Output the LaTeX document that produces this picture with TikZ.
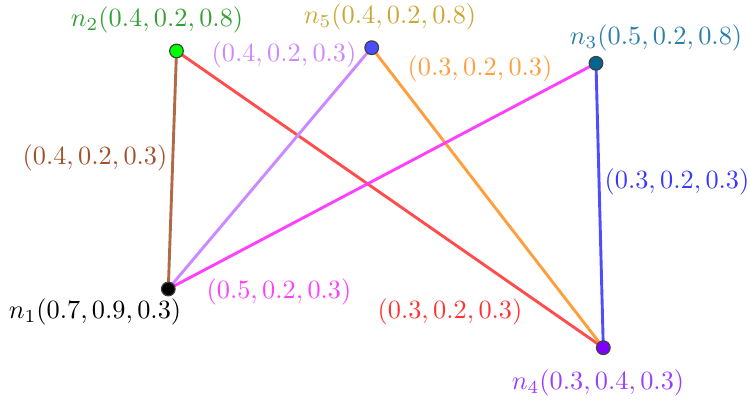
\documentclass[tikz,border=0pt]{standalone}
\usetikzlibrary{backgrounds}
\definecolor{cbrown}{HTML}{B06A45}
\definecolor{cbrownt}{HTML}{A0522D}
\definecolor{cred}{HTML}{FF4D4D}
\definecolor{credt}{HTML}{FF3333}
\definecolor{cviolet}{HTML}{CC88FF}
\definecolor{corange}{HTML}{FF9E3D}
\definecolor{cmagenta}{HTML}{FF40FF}
\definecolor{cblue}{HTML}{4D4DFF}
\definecolor{cbluet}{HTML}{3838FF}
\definecolor{cgreent}{HTML}{33A033}
\definecolor{cgoldt}{HTML}{CCA633}
\definecolor{ctealt}{HTML}{2C7FA8}
\definecolor{cpurplet}{HTML}{9A3DFF}
\definecolor{fgreen}{HTML}{00FF00}
\definecolor{fblue}{HTML}{4D4DFF}
\definecolor{fteal}{HTML}{00668F}
\definecolor{fpurple}{HTML}{8000FF}
\begin{document}
\begin{tikzpicture}[x=0.38pt,y=-0.38pt,
  vert/.style={circle,draw=black!75,line width=0.45pt,inner sep=0pt,minimum size=5.2pt},
  edge/.style={line width=1.1pt},
  lab/.style={inner sep=0pt,font=\normalsize}]
\useasboundingbox (0,0) rectangle (750,403);
\node[vert,fill=black] (n1) at (168.3,289) {};
\node[vert,fill=fgreen] (n2) at (176.5,51) {};
\node[vert,fill=fteal] (n3) at (596,63.3) {};
\node[vert,fill=fpurple] (n4) at (603.3,347.7) {};
\node[vert,fill=fblue] (n5) at (371.7,47.7) {};
\begin{scope}[on background layer]
\draw[edge,cbrown] (n1.center) -- (n2.center);
\draw[edge,cred] (n2.center) -- (n4.center);
\draw[edge,cviolet] (n1.center) -- (n5.center);
\draw[edge,corange] (n5.center) -- (n4.center);
\draw[edge,cmagenta] (n1.center) -- (n3.center);
\draw[edge,cblue] (n3.center) -- (n4.center);
\end{scope}
\node[lab,text=black] (l1) at (95,312) {$n_1(0.7,0.9,0.3)$};
\node[lab,text=cgreent] (l2) at (157,20) {$n_2(0.4,0.2,0.8)$};
\node[lab,text=ctealt] (l3) at (656,38) {$n_3(0.5,0.2,0.8)$};
\node[lab,text=cpurplet] (l4) at (598,383) {$n_4(0.3,0.4,0.3)$};
\node[lab,text=cgoldt] (l5) at (390,17) {$n_5(0.4,0.2,0.8)$};
\node[lab,text=cbrownt] (e12) at (95,158) {$(0.4,0.2,0.3)$};
\node[lab,text=cviolet] (e15) at (284,55) {$(0.4,0.2,0.3)$};
\node[lab,text=corange] (e54) at (480,69) {$(0.3,0.2,0.3)$};
\node[lab,text=cmagenta] (e13) at (279,292) {$(0.5,0.2,0.3)$};
\node[lab,text=credt] (e24) at (450,312) {$(0.3,0.2,0.3)$};
\node[lab,text=cbluet] (e34) at (677,182) {$(0.3,0.2,0.3)$};
\end{tikzpicture}
\end{document}
